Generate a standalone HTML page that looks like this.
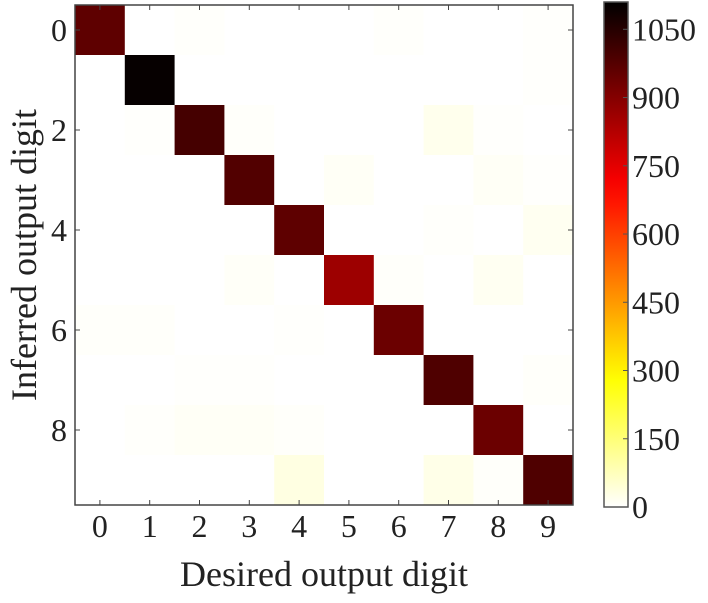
<!DOCTYPE html>
<html><head><meta charset="utf-8"><style>
body{margin:0;background:#fff;}
svg text{font-family:"Liberation Serif",serif;fill:#222;}
</style></head><body>
<svg id="c" width="708" height="598" xmlns="http://www.w3.org/2000/svg"></svg>
<script>
const digits=[0,1,2,3,4,5,6,7,8,9];
const diagValues=[960,1100,1000,980,960,860,940,985,940,985];
// off-diagonal [row, col, value]
const offDiag=[[0,2,4],[0,6,4],[0,9,3],[1,9,3],[2,1,3],[2,3,5],[2,7,20],[2,8,3],[3,5,10],[3,8,10],[3,9,3],
[4,7,4],[4,9,15],[5,3,8],[5,6,5],[5,8,14],[6,0,5],[6,1,5],[6,4,3],[7,2,3],[7,3,3],[7,9,5],
[8,1,4],[8,2,10],[8,3,10],[8,4,5],[9,4,32],[9,7,25],[9,8,5]];
const yTicks=[0,2,4,6,8];
const cbTicks=[0,150,300,450,600,750,900,1050];
const vmax=1110;

const NS="http://www.w3.org/2000/svg";
const svg=document.getElementById('c');
function mk(t,a,p){const e=document.createElementNS(NS,t);for(const k in a)e.setAttribute(k,a[k]);(p||svg).appendChild(e);return e;}
const L=75,T=5,W=498,H=500;
const cw=W/10,ch=H/10;
const xs=i=>L+i*cw, ys=i=>T+i*ch;
function hot(v){const t=1-Math.min(v,vmax)/vmax;const c=x=>Math.round(255*Math.max(0,Math.min(1,x)));
return `rgb(${c(t/0.365)},${c((t-0.365)/0.381)},${c((t-0.746)/0.254)})`;}
const M=digits.map(()=>digits.map(()=>0));
diagValues.forEach((v,i)=>M[i][i]=v);
offDiag.forEach(([r,c,v])=>M[r][c]=v);
for(let r=0;r<10;r++)for(let c=0;c<10;c++){
 const e=mk('rect',{x:xs(c),y:ys(r),width:cw+0.5,height:ch+0.5,fill:hot(M[r][c])});
 
 
}
const fr=mk('rect',{x:L,y:T,width:W,height:H,fill:'none',stroke:'#444','stroke-width':1.5});

digits.forEach(d=>{
 const x=xs(d)+cw/2;
 mk('line',{x1:x,y1:T+H,x2:x,y2:T+H-5,stroke:'#444'});
 mk('line',{x1:x,y1:T,x2:x,y2:T+5,stroke:'#444'});
 const t=mk('text',{x:x,y:537,'font-size':32,'text-anchor':'middle'});t.textContent=d;
 
});
yTicks.forEach(d=>{
 const y=ys(d)+ch/2;
 mk('line',{x1:L,y1:y,x2:L+5,y2:y,stroke:'#444'});
 mk('line',{x1:L+W,y1:y,x2:L+W-5,y2:y,stroke:'#444'});
 const t=mk('text',{x:67,y:y+11,'font-size':32,'text-anchor':'end'});t.textContent=d;
 
});
const xl=mk('text',{x:324,y:586,'font-size':36,'text-anchor':'middle'});xl.textContent='Desired output digit';

const yl=mk('text',{x:0,y:0,'font-size':36,'text-anchor':'middle',transform:'translate(36,255) rotate(-90)'});yl.textContent='Inferred output digit';

// colorbar
const cbL=604,cbR=628,cbT=2,cbB=507;
const defs=mk('defs',{});
const g=mk('linearGradient',{id:'g',x1:0,y1:1,x2:0,y2:0},defs);
for(let i=0;i<=20;i++){mk('stop',{offset:i/20,'stop-color':hot(vmax*i/20)},g);}
const cb=mk('rect',{x:cbL,y:cbT,width:cbR-cbL,height:cbB-cbT,fill:'url(#g)',stroke:'#555','stroke-width':1.5});

const cy=v=>cbB-(cbB-cbT)*v/vmax;
cbTicks.forEach(v=>{
 const y=cy(v);
 mk('line',{x1:cbR-5,y1:y,x2:cbR,y2:y,stroke:'#555'});
 const t=mk('text',{x:632,y:y+11,'font-size':32});t.textContent=v;
 
});
</script>
</body></html>
